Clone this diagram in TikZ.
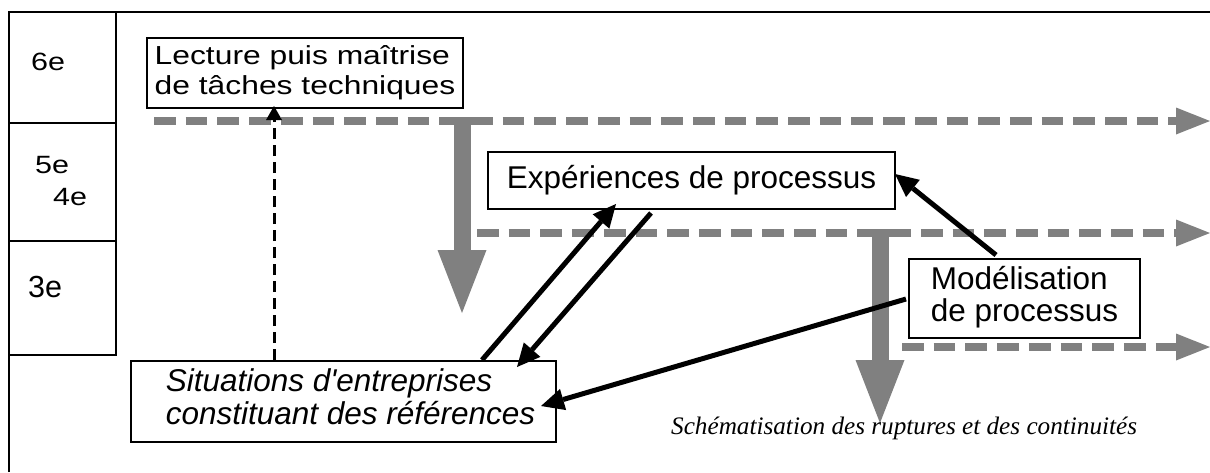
\documentclass[tikz,border=0pt]{standalone}
\usepackage{fontspec}
\setmainfont{Liberation Sans}
\newfontfamily\capfont{Liberation Serif}
\usepackage{graphicx}
\usetikzlibrary{arrows.meta,calc}
\definecolor{grayarr}{RGB}{128,128,128}
\newcommand\twolines[2]{\begin{tabular}{@{}l@{}}#1\\#2\end{tabular}}
\newcommand\squishy[1]{\scalebox{1}[0.82]{#1}}
\begin{document}
\begin{tikzpicture}[x=1pt,y=-1pt,
  frame/.style={line width=2pt},
  box/.style={draw, line width=2pt, fill=white, inner sep=0pt, font=\fontsize{31.5}{31}\selectfont},
  lvl/.style={anchor=base west, inner sep=0pt, font=\fontsize{30.5}{30}\selectfont},
  flow/.style={color=grayarr, line width=7.5pt, dash pattern=on 21.7pt off 10pt, -{Triangle[length=34pt,width=27pt,line width=0pt]}},
  jump/.style={color=grayarr, line width=17pt, -{Triangle[length=63pt,width=49pt,line width=0pt]}},
  link/.style={line width=5pt, -{Triangle[length=23pt,width=22pt,line width=0pt]}},
  refer/.style={line width=3pt, dash pattern=on 11pt off 6pt, -{Triangle[length=14pt,width=16pt,line width=0pt]}}
]
\useasboundingbox (0,0) rectangle (1210,472);
% frame and level column
\draw[frame] (9,472) -- (9,12) -- (1210,12);
\draw[frame] (116,12) -- (116,355);
\draw[frame] (9,123) -- (116,123);
\draw[frame] (9,241) -- (116,241);
\draw[frame] (9,355) -- (117,355);
\node[lvl] (l6) at (31,70) {\squishy{6e}};
\node[lvl] (l5) at (35,173) {\squishy{5e}};
\node[lvl] (l4) at (53,205) {\squishy{4e}};
\node[lvl] (l3) at (28,297) {3e};
% grey flows
\coordinate (t0) at (154,121); \coordinate (t1) at (1210,121);
\coordinate (m0) at (477,233); \coordinate (m1) at (1210,233);
\coordinate (b0) at (902,347); \coordinate (b1) at (1210,347);
\coordinate (d1s) at (462,117); \coordinate (d1e) at (462,313);
\coordinate (d2s) at (880,229); \coordinate (d2e) at (880,423);
\draw[flow] (t0) -- (t1);
\draw[flow] (m0) -- (m1);
\draw[flow] (b0) -- (b1);
\draw[jump] (d1s) -- (d1e);
\draw[jump] (d2s) -- (d2e);
% boxes
\node[box, minimum width=316pt, minimum height=70pt] (lect) at (305,73)
  {\squishy{\fontsize{31.8}{36.6}\selectfont\twolines{Lecture puis maîtrise}{de tâches techniques}}};
\node[box, minimum width=407pt, minimum height=57pt] (exp) at (691.5,180.5) {Expériences de processus};
\node[box, minimum width=231pt, minimum height=79pt, font=\fontsize{31.5}{29}\selectfont] (mod) at (1024.5,298.5)
  {\twolines{Modélisation}{de processus}};
\node[box, minimum width=425pt, minimum height=81pt, font=\fontsize{31.5}{32}\selectfont\itshape] (sit) at (343.5,401.5)
  {\hspace*{14pt}\twolines{Situations d\textquotesingle entreprises}{constituant des références}};
\node[anchor=base west, inner sep=0pt, font=\capfont\itshape\fontsize{25.2}{26}\selectfont] (cap) at (671,434)
  {Schématisation des ruptures et des continuités};
% black connectors
\draw[refer] ($(sit.north west)+(144,0)$) -- ($(lect.south west)+(128,-3)$);
\draw[link] ($(sit.north west)+(352,0)$) -- ($(exp.south west)+(129,-6)$);
\draw[link] ($(exp.south west)+(164,3)$) -- ($(sit.north west)+(387,7)$);
\draw[link] ($(mod.north west)+(88,-3)$) -- ($(exp.north east)+(-1,23)$);
\draw[link] ($(mod.north west)+(-2,41)$) -- ($(sit.north east)+(-16,46)$);
\end{tikzpicture}
\end{document}
